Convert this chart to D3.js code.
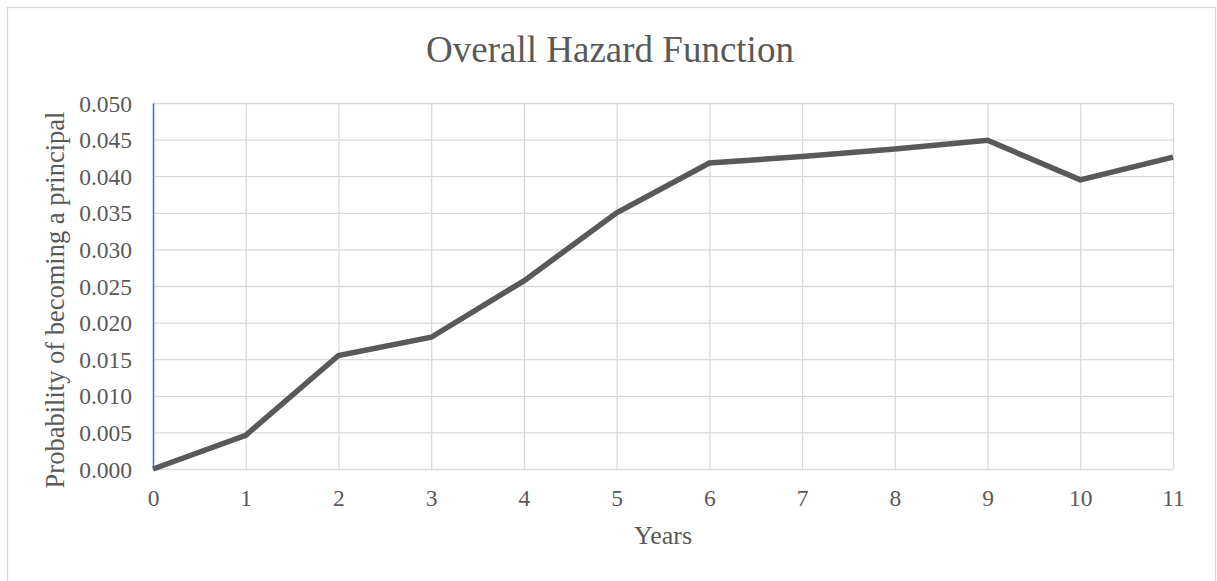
<!DOCTYPE html>
<html>
<head>
<meta charset="utf-8">
<script src="https://cdn.jsdelivr.net/npm/d3@7/dist/d3.min.js"></script>
<style>
  body { margin: 0; background: #fff; }
  svg text { font-family: "Liberation Serif", "Times New Roman", serif; fill: #595959; }
  .grid line { stroke: #d9d9d9; stroke-width: 1.3; }
  .grid .domain { display: none; }
</style>
</head>
<body>
<div id="chart"></div>
<script>
// data
const years = [0, 1, 2, 3, 4, 5, 6, 7, 8, 9, 10, 11];
const hazard = [0.0000, 0.0046, 0.0155, 0.0180, 0.0257, 0.0350, 0.0418, 0.0427, 0.0437, 0.0449, 0.0395, 0.0426];
const yTicks = [0, 0.005, 0.01, 0.015, 0.02, 0.025, 0.03, 0.035, 0.04, 0.045, 0.05];

const W = 1217, H = 581;
const margin = { top: 103, right: 44, bottom: 112, left: 153 },
  width = W - margin.left - margin.right,
  height = H - margin.top - margin.bottom;

const svg = d3.select('#chart')
  .append('svg')
  .attr('width', W)
  .attr('height', H);

// chart border
svg.append('rect')
  .attr('x', 7.5).attr('y', 7.5)
  .attr('width', 1208).attr('height', 600)
  .attr('fill', 'none')
  .attr('stroke', '#d9d9d9')
  .attr('stroke-width', 1.3);

const g = svg.append('g')
  .attr('transform', 'translate(' + margin.left + ',' + margin.top + ')');

const xScale = d3.scaleLinear().domain([0, 11]).range([0, width]);
const yScale = d3.scaleLinear().domain([0, 0.05]).range([height, 0]);

// gridlines first
g.append('g')
  .attr('class', 'grid')
  .call(d3.axisLeft(yScale).tickValues(yTicks).tickSize(-width).tickFormat(''));

g.append('g')
  .attr('class', 'grid')
  .attr('transform', 'translate(0,' + height + ')')
  .call(d3.axisBottom(xScale).tickValues(years).tickSize(-height).tickFormat(''));

// line
const lineGenerator = d3.line()
  .x((d, i) => xScale(years[i]))
  .y(d => yScale(d));

g.append('path')
  .datum(hazard)
  .attr('d', lineGenerator)
  .attr('fill', 'none')
  .attr('stroke', '#595959')
  .attr('stroke-width', 5.5)
  .attr('stroke-linejoin', 'miter');

// y axis (blue line, labels)
const yAxis = g.append('g')
  .call(d3.axisLeft(yScale).tickValues(yTicks).tickSize(0).tickPadding(21).tickFormat(d3.format('.3f')));
yAxis.select('.domain').attr('stroke', '#4472c4').attr('stroke-width', 1.5);
yAxis.selectAll('text').style('font-size', '23.5px').attr('dy', '0.34em');

// x axis labels
const xAxis = g.append('g')
  .attr('transform', 'translate(0,' + height + ')')
  .call(d3.axisBottom(xScale).tickValues(years).tickSize(0).tickPadding(20).tickFormat(d3.format('d')));
xAxis.select('.domain').remove();
xAxis.selectAll('text').style('font-size', '23.5px');

// titles
svg.append('text')
  .attr('x', 610).attr('y', 62)
  .attr('text-anchor', 'middle')
  .style('font-size', '37px')
  .text('Overall Hazard Function');

svg.append('text')
  .attr('x', margin.left + width / 2).attr('y', 544)
  .attr('text-anchor', 'middle')
  .style('font-size', '26px')
  .text('Years');

svg.append('text')
  .attr('transform', 'translate(64,300) rotate(-90)')
  .attr('text-anchor', 'middle')
  .style('font-size', '26.5px')
  .text('Probability of becoming a principal');
</script>
</body>
</html>
